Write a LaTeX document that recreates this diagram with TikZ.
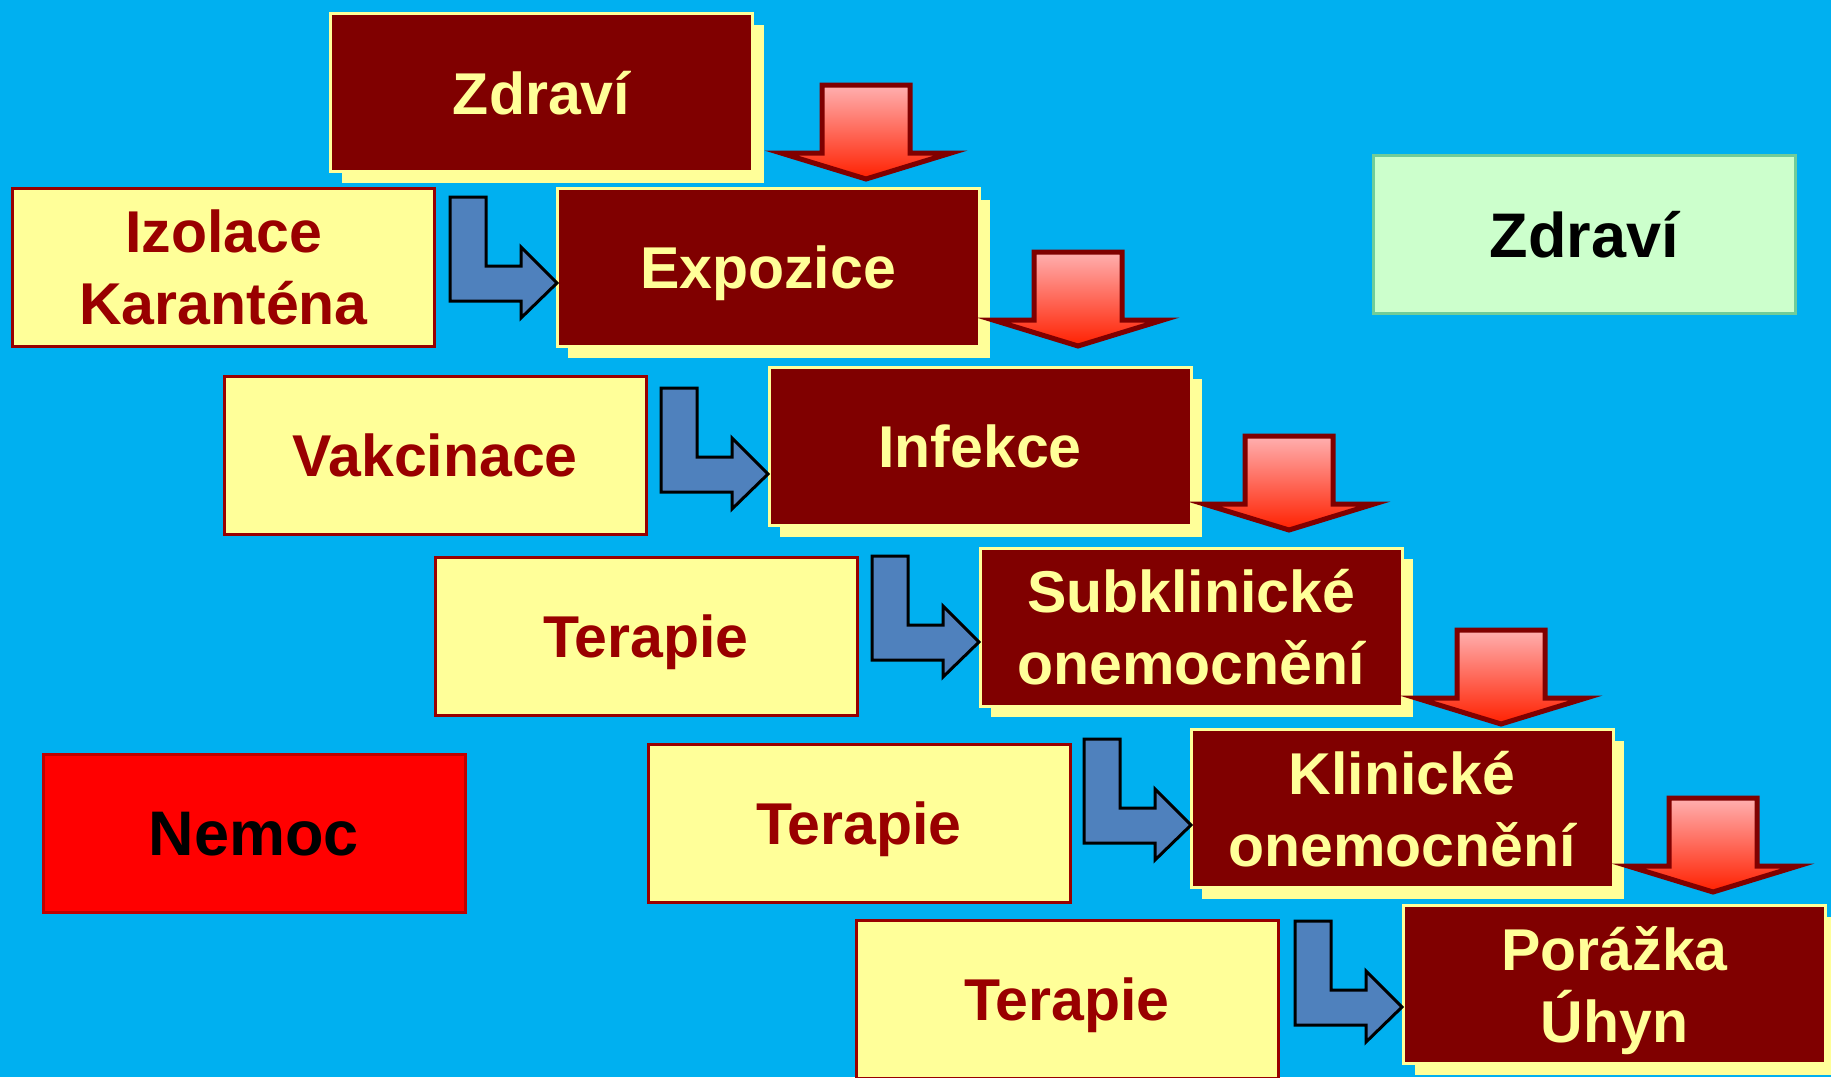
\documentclass[tikz,border=0pt]{standalone}
\usepackage{fontspec}
\setmainfont{Liberation Sans}
\usetikzlibrary{shadows}
\definecolor{bgblue}{HTML}{00B0F0}
\definecolor{darkbox}{HTML}{800000}
\definecolor{ltyellow}{HTML}{FFFF99}
\definecolor{txtred}{HTML}{990000}
\definecolor{arrblue}{HTML}{4F81BD}
\definecolor{greenfill}{HTML}{CCFFCC}
\definecolor{greenline}{HTML}{70CC99}
\definecolor{nemocfill}{HTML}{FF0000}
\definecolor{nemocline}{HTML}{C00000}
\definecolor{arrtop}{HTML}{FFB0B0}
\definecolor{arrbot}{HTML}{FF2000}
\newcommand\DownArr[2]{%
  \draw[downarrow] (#1-44,#2) -- (#1+44,#2) -- (#1+44,#2+68) -- (#1+85,#2+68)
    -- (#1,#2+94) -- (#1-85,#2+68) -- (#1-44,#2+68) -- cycle;}
\newcommand\BlueArr[2]{%
  \draw[bluearrow] (#1-107,#2-86) -- (#1-71,#2-86) -- (#1-71,#2-17) -- (#1-36,#2-17)
    -- (#1-36,#2-36) -- (#1,#2) -- (#1-36,#2+35) -- (#1-36,#2+18) -- (#1-107,#2+18) -- cycle;}
\begin{document}
\begin{tikzpicture}[x=1pt,y=-1pt,
  boxbase/.style={rectangle, inner sep=0pt, minimum width=422pt, minimum height=158pt,
    line width=3pt, align=center, text depth=0pt, font=\fontsize{59}{72}\selectfont\bfseries},
  stagebox/.style={boxbase, fill=darkbox, draw=ltyellow, text=ltyellow,
    drop shadow={shadow xshift=11pt, shadow yshift=-11pt, fill=ltyellow, opacity=1}},
  actionbox/.style={boxbase, fill=ltyellow, draw=txtred, text=txtred},
  healthbox/.style={boxbase, fill=greenfill, draw=greenline, text=black,
    font=\fontsize{63}{72}\selectfont\bfseries},
  diseasebox/.style={boxbase, fill=nemocfill, draw=nemocline, text=black,
    font=\fontsize{63}{72}\selectfont\bfseries},
  downarrow/.style={draw=darkbox, line width=5pt, line join=miter, top color=arrtop, bottom color=arrbot},
  bluearrow/.style={draw=black, line width=3pt, line join=miter, fill=arrblue}]
\fill[bgblue] (0,0) rectangle (1831,1077);
\useasboundingbox (0,0) rectangle (1831,1077);
% stage boxes
\node[stagebox] (b1) at (541.5,92.5) {Zdraví};
\node[stagebox] (b2) at (768,267.5) {Expozice};
\node[stagebox] (b3) at (980,446.5) {Infekce};
\node[stagebox] (b4) at (1191,627) {Subklinické\\onemocnění};
\node[stagebox] (b5) at (1402,808.5) {Klinické\\onemocnění};
\node[stagebox] (b6) at (1614.5,984.5) {Porážka\\Úhyn};
% action boxes
\node[actionbox] (y1) at (223.5,267.5) {Izolace\\Karanténa};
\node[actionbox] (y2) at (435,455.5) {Vakcinace};
\node[actionbox] (y3) at (646,636.5) {Terapie};
\node[actionbox] (y4) at (859,823.5) {Terapie};
\node[actionbox] (y5) at (1067,999.5) {Terapie};
% legend boxes
\node[healthbox] (zdr) at (1584.5,234.5) {Zdraví};
\node[diseasebox] (nem) at (254,833.5) {Nemoc};
% down arrows
\DownArr{866}{85}
\DownArr{1078}{252}
\DownArr{1289}{436}
\DownArr{1501}{630}
\DownArr{1713}{798}
% bent arrows
\BlueArr{557}{283}
\BlueArr{768}{474}
\BlueArr{979}{642}
\BlueArr{1191}{825}
\BlueArr{1402}{1007}
\end{tikzpicture}
\end{document}
